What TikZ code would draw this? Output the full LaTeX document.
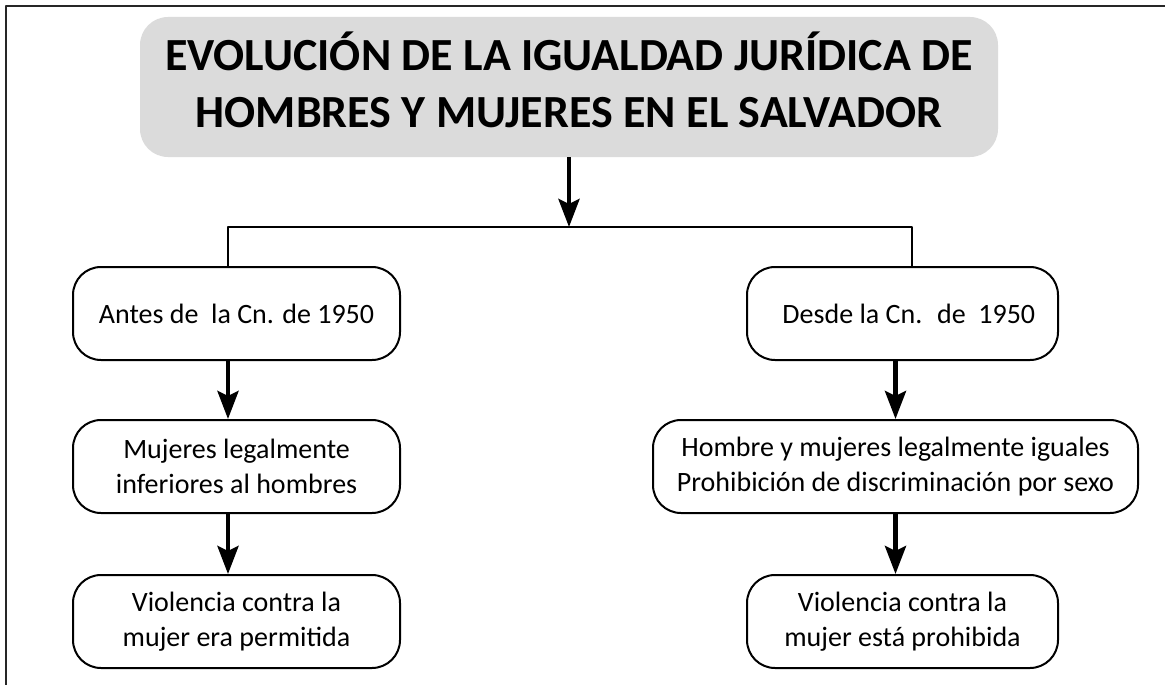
\documentclass[tikz,border=0pt]{standalone}
\usepackage{fontspec}
\setmainfont{Carlito}
\usetikzlibrary{arrows.meta,positioning}

\begin{document}
\begin{tikzpicture}[x=1pt,y=-1pt,line join=round,
	caja/.style={draw,line width=2pt,rounded corners=28pt,minimum height=93pt,align=center,inner sep=0pt,font=\fontsize{28}{35}\selectfont},
	linea/.style={line width=2pt},
	flecha/.style={line width=4.5pt,-{Stealth[length=28pt,width=21pt,inset=5pt]}}]
		\useasboundingbox (0,0) rectangle (1165,685);
		\draw[line width=1.5pt,black!85] (6,685)--(6,6)--(1165,6);
		\node[fill=black!14,rounded corners=28pt,minimum width=858pt,minimum height=140pt,inner sep=0pt] (titulo) at (569,87) {};
		\node[align=center,inner sep=0pt,font=\fontsize{46}{57}\selectfont\bfseries] (tituloTxt) at (569,80) {EVOLUCIÓN DE LA IGUALDAD JURÍDICA DE\\HOMBRES Y MUJERES EN EL SALVADOR};
		\coordinate (ramaI) at (228,227);
		\coordinate (ramaD) at (912,227);
		\node[caja,minimum width=327pt] (a1) at (236.5,313.5) {Antes de~ la Cn. de 1950};
		\node[caja,minimum width=327pt] (a2) at (236.5,466.5) {Mujeres legalmente\\inferiores al hombres};
		\node[caja,minimum width=327pt] (a3) at (236.5,621.5) {Violencia contra la\\mujer era permitida};
		\node[caja,minimum width=311pt] (b1) at (902.5,313.5) {~~Desde la Cn.~ de~ 1950};
		\node[caja,minimum width=485pt] (b2) at (895.5,466.5) {Hombre y mujeres legalmente iguales\\Prohibición de discriminación por sexo};
		\node[caja,minimum width=311pt] (b3) at (902.5,621.5) {Violencia contra la\\mujer está prohibida};
		\draw[flecha] (titulo.south)--(titulo.south |- ramaI);
		\draw[linea] (a1.north -| ramaI)--(ramaI)--(ramaD)--(b1.north -| ramaD);
		\draw[flecha] (a1.south -| ramaI)--(a2.north -| ramaI);
		\draw[flecha] (a2.south -| ramaI)--(a3.north -| ramaI);
		\draw[flecha] (b1.south -| b2.north)--(b2.north);
		\draw[flecha] (b2.south)--(b3.north -| b2.south);
\end{tikzpicture}
\end{document}
